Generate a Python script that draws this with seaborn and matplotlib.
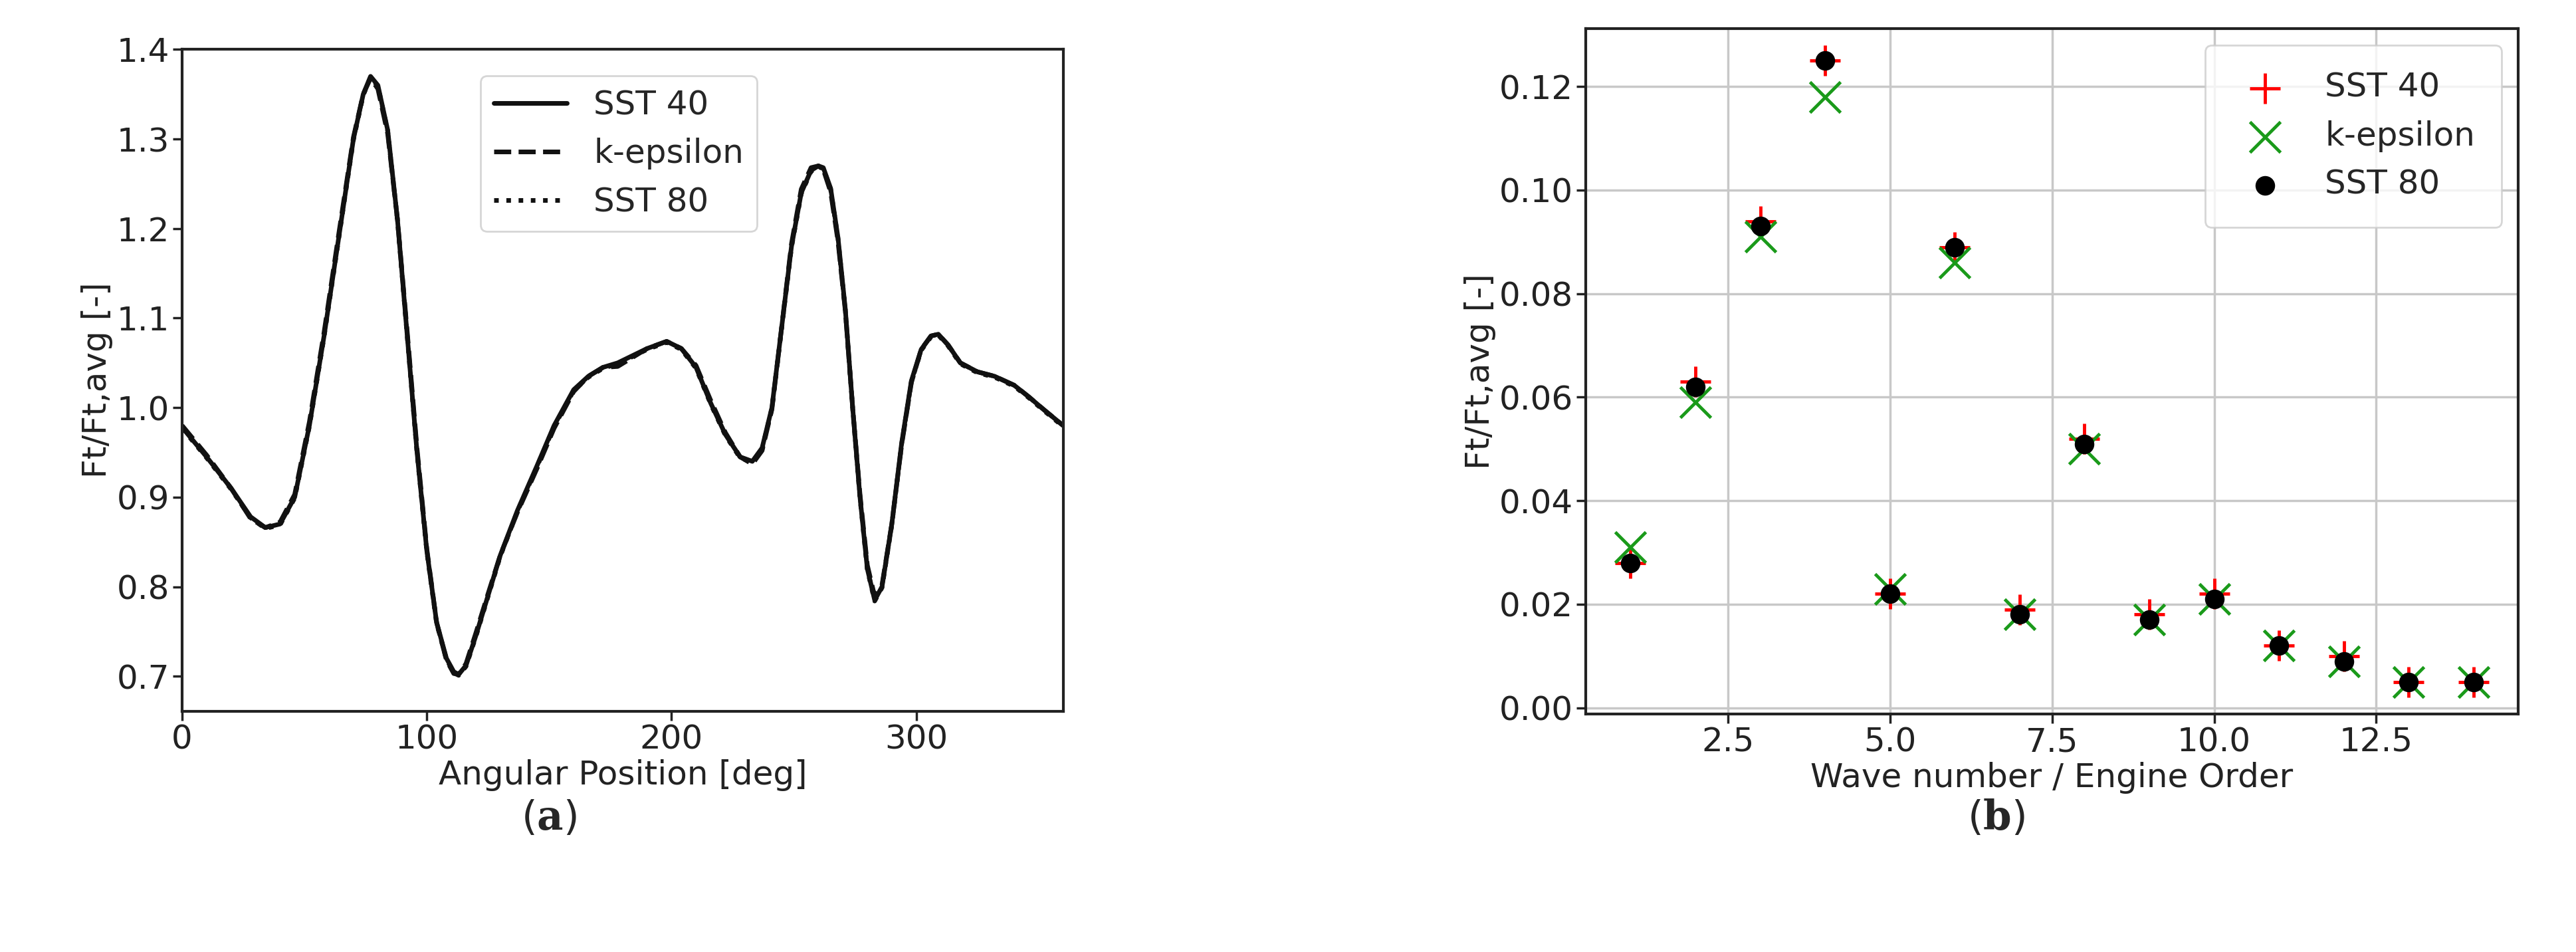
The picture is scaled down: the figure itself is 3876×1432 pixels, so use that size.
import numpy as np
import pandas as pd
import matplotlib
matplotlib.use("Agg")
import matplotlib.pyplot as plt
import seaborn as sns

sns.set_style("white")
plt.rcParams['font.family'] = ['DejaVu Sans']
plt.rcParams['mathtext.fontset'] = 'dejavuserif'

# ---- panel (a) data ----
angle = [0, 10, 20, 28, 34, 40, 46, 52, 58, 64, 70, 74, 77, 80, 84, 88, 92, 96, 100, 104, 108, 111, 113, 116, 120,
         125, 130, 137, 145, 152, 160, 166, 172, 178, 184, 190, 198, 204, 210, 216, 222, 228, 233, 237, 241, 245,
         249, 253, 257, 260, 262, 265, 268, 271, 274, 277, 280, 283, 286, 290, 294, 298, 302, 306, 309, 313, 318,
         325, 332, 340, 346, 352, 360]
sst40 = [0.978, 0.945, 0.91, 0.878, 0.866, 0.87, 0.9, 0.98, 1.08, 1.19, 1.3, 1.35, 1.37, 1.36, 1.31, 1.21, 1.08,
         0.95, 0.84, 0.76, 0.72, 0.705, 0.702, 0.712, 0.745, 0.79, 0.835, 0.885, 0.935, 0.98, 1.02, 1.035, 1.045,
         1.05, 1.058, 1.066, 1.074, 1.066, 1.045, 1.005, 0.97, 0.945, 0.94, 0.955, 1.0, 1.09, 1.18, 1.24, 1.265,
         1.27, 1.268, 1.245, 1.19, 1.11, 1.0, 0.9, 0.82, 0.785, 0.8, 0.87, 0.96, 1.03, 1.065, 1.08, 1.082, 1.07,
         1.05, 1.04, 1.035, 1.025, 1.012, 0.998, 0.98]
keps = [v + d for v, d in zip(sst40, [0.002, 0.002, 0.0, -0.002, 0.0, 0.002, 0.003, 0.004, 0.004, 0.004, 0.002,
        0.0, -0.002, -0.004, -0.004, 0.0, 0.004, 0.004, 0.002, 0.0, -0.002, -0.002, 0.0, 0.002, 0.003, 0.002, 0.0,
        -0.002, -0.003, -0.003, -0.002, 0.0, 0.0, -0.004, -0.002, 0.0, 0.0, 0.0, 0.002, 0.003, 0.002, 0.0, -0.003,
        -0.003, -0.002, 0.0, 0.003, 0.004, 0.003, 0.0, -0.002, -0.004, -0.004, -0.002, 0.0, 0.003, 0.004, 0.004,
        0.002, 0.0, -0.002, -0.002, 0.0, 0.0, 0.0, 0.0, 0.0, 0.0, 0.0, 0.0, 0.0, 0.0, 0.0])]
sst80 = [v - 0.001 for v in sst40]

# ---- panel (b) data ----
order = list(range(1, 15))
amp_sst40 = [0.028, 0.063, 0.094, 0.125, 0.022, 0.089, 0.019, 0.052, 0.018, 0.022, 0.012, 0.010, 0.005, 0.005]
amp_keps = [0.031, 0.059, 0.091, 0.118, 0.023, 0.086, 0.018, 0.050, 0.017, 0.021, 0.012, 0.009, 0.005, 0.005]
amp_sst80 = [0.028, 0.062, 0.093, 0.125, 0.022, 0.089, 0.018, 0.051, 0.017, 0.021, 0.012, 0.009, 0.005, 0.005]

FS = 36
fig = plt.figure(figsize=(38.76, 14.32), dpi=100)

# ---------- (a) ----------
ax1 = fig.add_axes([0.0707, 0.253, 0.342, 0.695])
dfa = pd.DataFrame({"angle": angle, "SST 40": sst40, "k-epsilon": keps, "SST 80": sst80})
for name, ls in [("SST 40", "-"), ("k-epsilon", "--"), ("SST 80", ":")]:
    sns.lineplot(data=dfa, x="angle", y=name, ax=ax1, color="#111111", linestyle=ls, linewidth=5, label=name)
ax1.set_xlim(0, 360)
ax1.set_ylim(0.661, 1.4)
ax1.set_xticks([0, 100, 200, 300])
ax1.set_yticks([0.7, 0.8, 0.9, 1.0, 1.1, 1.2, 1.3, 1.4])
ax1.set_xlabel("Angular Position [deg]", fontsize=FS, color="#222222")
ax1.set_ylabel("Ft/Ft,avg [-]", fontsize=FS, color="#222222")
ax1.tick_params(labelsize=FS, length=10, width=2.5, colors="#222222", left=True, bottom=True)
for s in ax1.spines.values():
    s.set_linewidth(3)
    s.set_color("#222222")
leg = ax1.legend(loc="upper left", bbox_to_anchor=(0.32, 0.985), fontsize=FS, handlelength=2.2, frameon=True)
leg.get_frame().set_linewidth(2)

# ---------- (b) ----------
ax2 = fig.add_axes([0.6156, 0.250, 0.362, 0.720])
dfb = pd.DataFrame({"order": order, "SST 40": amp_sst40, "k-epsilon": amp_keps, "SST 80": amp_sst80})
sns.scatterplot(data=dfb, x="order", y="SST 40", ax=ax2, marker="+", color="red", s=1100, linewidth=3.5, label="SST 40", zorder=3)
sns.scatterplot(data=dfb, x="order", y="k-epsilon", ax=ax2, marker="x", color="#1a9a1a", s=1100, linewidth=3.5, label="k-epsilon", zorder=4)
sns.scatterplot(data=dfb, x="order", y="SST 80", ax=ax2, marker="o", color="black", s=450, linewidth=0, label="SST 80", zorder=5)
ax2.set_xlim(0.31, 14.69)
ax2.set_ylim(-0.0012, 0.1312)
ax2.set_xticks([2.5, 5.0, 7.5, 10.0, 12.5])
ax2.set_yticks([0.0, 0.02, 0.04, 0.06, 0.08, 0.10, 0.12])
ax2.yaxis.set_major_formatter(matplotlib.ticker.FormatStrFormatter("%.2f"))
ax2.xaxis.set_major_formatter(matplotlib.ticker.FormatStrFormatter("%.1f"))
ax2.grid(True, color="#c8c8c8", linewidth=2.5)
ax2.set_axisbelow(True)
ax2.set_xlabel("Wave number / Engine Order", fontsize=FS, color="#222222")
ax2.set_ylabel("Ft/Ft,avg [-]", fontsize=FS, color="#222222")
ax2.tick_params(labelsize=FS, length=10, width=2.5, colors="#222222", left=True, bottom=True)
for s in ax2.spines.values():
    s.set_linewidth(3)
    s.set_color("#222222")
leg2 = ax2.legend(loc="upper right", fontsize=FS, markerscale=1.0, frameon=True, borderpad=0.8)
leg2.get_frame().set_linewidth(2)

fig.text(0.213, 0.14, r"($\mathbf{a}$)", fontsize=44, ha="center", va="center")
fig.text(0.775, 0.14, r"($\mathbf{b}$)", fontsize=44, ha="center", va="center")

fig.savefig("out.png", dpi=100, facecolor="white")
